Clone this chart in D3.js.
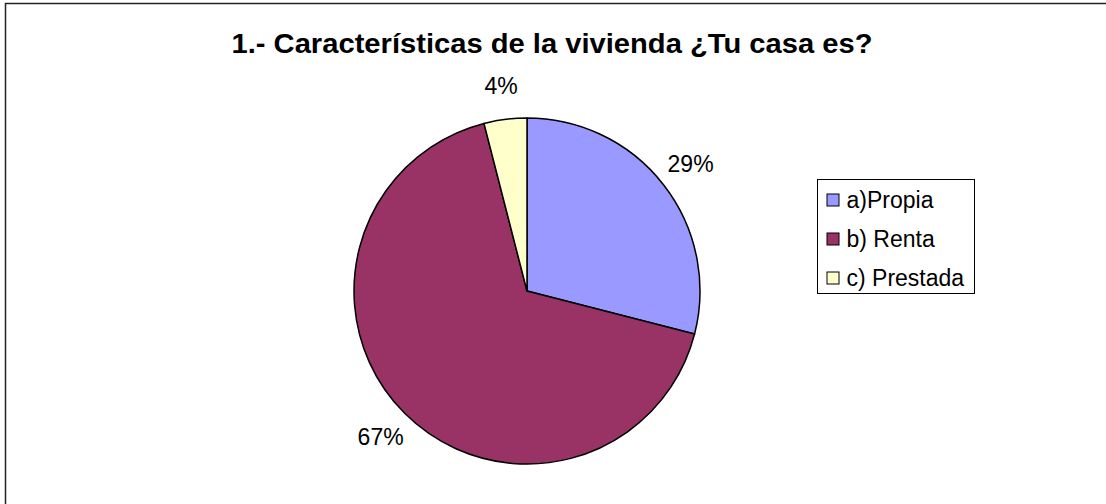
<!DOCTYPE html>
<html>
<head>
<meta charset="utf-8">
<script src="https://cdn.jsdelivr.net/npm/d3@7"></script>
<style>
    body { margin: 0; background: #fff; }
    svg { display: block; font-family: Arial, "Liberation Sans", sans-serif; }
</style>
</head>
<body>
<div id="chart"></div>
<script>
const categories = ["a)Propia", "b) Renta", "c) Prestada"];
const values = [29, 67, 4];
const labels = ["29%", "67%", "4%"];
const colors = ["#9999FF", "#993366", "#FFFFCC"];

const width = 1106;
const height = 504;
const cx = 527, cy = 291, radius = 173;

const svg = d3.select("#chart").append("svg")
    .attr("width", width)
    .attr("height", height);

// outer frame (extends past the photo on right and bottom)
svg.append("rect")
    .attr("x", 5.5).attr("y", 3.5)
    .attr("width", width + 20).attr("height", height + 20)
    .attr("fill", "#fff")
    .attr("stroke", "#222")
    .attr("stroke-width", 1.5);

svg.append("text")
    .attr("x", 552).attr("y", 53)
    .attr("text-anchor", "middle")
    .attr("font-size", "27px")
    .attr("font-weight", "bold")
    .attr("fill", "#000")
    .attr("textLength", 641)
    .attr("lengthAdjust", "spacingAndGlyphs")
    .text("1.- Características de la vivienda ¿Tu casa es?");

const pie = d3.pie().sort(null).value(d => d);
const arcs = pie(values);

const arc = d3.arc().innerRadius(0).outerRadius(radius);
const labelArc = d3.arc().innerRadius(207).outerRadius(207);

const g = svg.append("g").attr("transform", `translate(${cx},${cy})`);

g.selectAll("path.slice")
    .data(arcs)
    .enter().append("path")
    .attr("class", "slice")
    .attr("d", arc)
    .attr("fill", (d, i) => colors[i])
    .attr("stroke", "#000")
    .attr("stroke-width", 1.5)
    .attr("stroke-linejoin", "round");

g.selectAll("text.pct")
    .data(arcs)
    .enter().append("text")
    .attr("class", "pct")
    .attr("transform", d => `translate(${labelArc.centroid(d)})`)
    .attr("text-anchor", "middle")
    .attr("dy", "0.35em")
    .attr("font-size", "23px")
    .attr("fill", "#000")
    .text((d, i) => labels[i]);

// legend
const legend = svg.append("g").attr("transform", "translate(817.5,179.5)");
legend.append("rect")
    .attr("width", 157).attr("height", 114)
    .attr("fill", "#fff")
    .attr("stroke", "#000")
    .attr("stroke-width", 1);

const item = legend.selectAll("g.item")
    .data(categories)
    .enter().append("g")
    .attr("class", "item")
    .attr("transform", (d, i) => `translate(9,${20 + i * 39})`);

item.append("rect")
    .attr("x", 0.5).attr("y", -5.5)
    .attr("width", 12).attr("height", 12)
    .attr("fill", (d, i) => colors[i])
    .attr("stroke", "#000")
    .attr("stroke-width", 1);

item.append("text")
    .attr("x", 20)
    .attr("dy", "0.35em")
    .attr("font-size", "23px")
    .attr("fill", "#000")
    .text(d => d);
</script>
</body>
</html>
